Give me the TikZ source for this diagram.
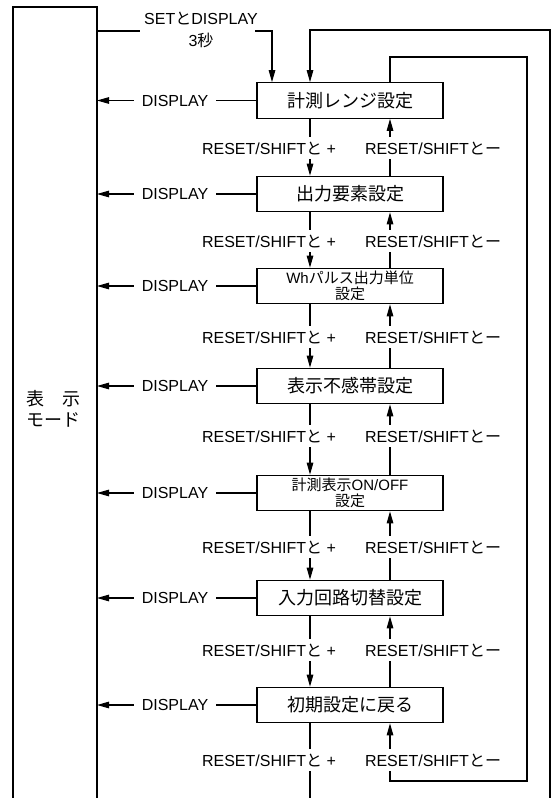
\documentclass[tikz,border=0pt]{standalone}
\usepackage{fontspec}
\setmainfont{Liberation Sans}
\newfontfamily\jp{Noto Sans CJK JP}
\usetikzlibrary{arrows.meta}
\newcommand\tightls{\lineskiplimit=-20pt\relax}
\begin{document}
\begin{tikzpicture}[x=1pt,y=-1pt,
  ln/.style={line width=1.1pt},
  arr/.style={-{Triangle[length=12pt,width=6.5pt]}},
  box/.style={draw,line width=1.1pt,minimum width=186pt,minimum height=35.5pt,inner sep=0pt,font=\fontsize{18}{18}\selectfont\jp},
  boxtwo/.style={box,font=\fontsize{15}{16.5}\selectfont,align=center},
  lbl/.style={inner sep=0pt,minimum height=22pt,font=\fontsize{16}{16}\selectfont},
  dsp/.style={inner xsep=8pt,inner ysep=0pt,font=\fontsize{16}{16}\selectfont}]
\useasboundingbox (0,0) rectangle (554,798);
\fill[white] (0,0) rectangle (554,798);

% helper coordinates
\coordinate (lx) at (97,0);
\coordinate (dspx) at (175,0);

% left mode box (open at bottom)
\coordinate (lb1) at (13,798);
\coordinate (lb2) at (13,7);
\coordinate (lb3) at (97,7);
\coordinate (lb4) at (97,798);
\draw[ln] (lb1) -- (lb2) -- (lb3) -- (lb4);
\node[font=\fontsize{18}{21}\selectfont\jp\tightls,align=center] (mode) at (53.5,408.5) {表　示\\モード};

% setting boxes
\node[box] (b1) at (350,100.5) {計測レンジ設定};
\node[box] (b2) at (350,194) {出力要素設定};
\node[boxtwo] (b3) at (350,286) {Wh{\jp パルス出力単位}\\{\jp 設定}};
\node[box] (b4) at (350,386) {表示不感帯設定};
\node[boxtwo] (b5) at (350,493) {{\jp 計測表示}ON/OFF\\{\jp 設定}};
\node[box] (b6) at (350,598) {入力回路切替設定};
\node[box] (b7) at (350,705) {初期設定に戻る};

% RESET/SHIFT labels
\foreach \i/\y in {1/148,2/241,3/337,4/436,5/547,6/650,7/760}{
  \node[lbl] (p\i) at (269,\y) {RESET/SHIFT{\jp と} +};
  \node[lbl] (m\i) at (433,\y) {RESET/SHIFT{\jp とー}};
}

% vertical guides
\coordinate (dx) at (310,30);
\coordinate (ux) at (390,57);

% connections between boxes
\foreach \i [evaluate=\i as \j using int(\i+1)] in {1,...,6}{
  \draw[ln] (b\i.south -| dx) -- (p\i.north -| dx);
  \draw[ln,arr] (p\i.south -| dx) -- (b\j.north -| dx);
  \draw[ln] (b\j.north -| ux) -- (m\i.south -| ux);
  \draw[ln,arr] (m\i.north -| ux) -- (b\i.south -| ux);
}

% DISPLAY arrows to mode box
\foreach \i in {1,...,7}{
  \node[dsp] (d\i) at (b\i -| dspx) {DISPLAY};
  \draw[ln] (b\i.west) -- (d\i.east);
  \draw[ln,arr] (d\i.west) -- (d\i.west -| lx);
}

% entry: SET and DISPLAY 3 s
\node[font=\fontsize{16}{22}\selectfont\tightls,align=center] (set) at (201,30) {SET{\jp と}DISPLAY\\3{\jp 秒}};
\coordinate (lt) at (97,31);
\coordinate (s1) at (140,31);
\coordinate (s2) at (255,31);
\coordinate (s3) at (272,31);
\draw[ln] (lt) -- (s1);
\draw[ln,arr] (s2) -- (s3) -- (b1.north -| s3);

% outer loop (from bottom back to top)
\coordinate (o1) at (550,798);
\coordinate (o2) at (550,30);
\draw[ln,arr] (o1) -- (o2) -- (dx) -- (b1.north -| dx);

% inner loop (from top box to last box)
\coordinate (i2) at (527,57);
\coordinate (i3) at (527,781);
\coordinate (i4) at (390,781);
\draw[ln] (b1.north -| ux) -- (ux) -- (i2) -- (i3) -- (i4) -- (m7.south -| ux);
\draw[ln,arr] (m7.north -| ux) -- (b7.south -| ux);

% continuation below last box
\coordinate (db) at (310,798);
\draw[ln] (b7.south -| dx) -- (p7.north -| dx);
\draw[ln] (p7.south -| dx) -- (db);
\end{tikzpicture}
\end{document}
